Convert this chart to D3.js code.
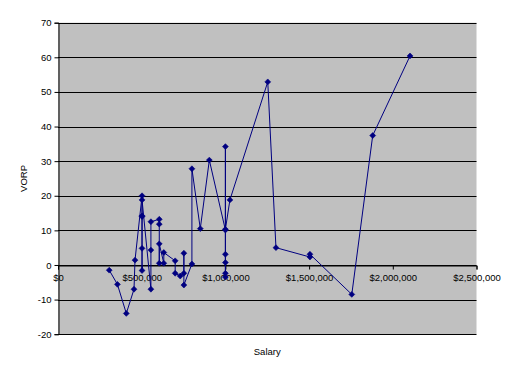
<!DOCTYPE html>
<html><head><meta charset="utf-8">
<script src="https://cdn.jsdelivr.net/npm/d3@7"></script>
<style>
html,body{margin:0;padding:0;background:#fff;}
svg{display:block;}
text{font-family:"Liberation Sans",Arial,sans-serif;}
</style></head>
<body>
<script>
const salary = [306000,355000,408000,454000,460000,
  502000,502000,502000,502000,502000,502000,
  555000,555000,555000,
  605000,605000,605000,605000,
  632000,632000,
  700000,700000,730000,
  752000,752000,752000,
  800000,800000,850000,904000,
  1000000,1000000,1000000,1000000,1000000,1000000,1000000,
  1027000,1253000,1302000,1505000,1505000,1755000,1880000,2103000];
const vorp = [-1.5,-5.6,-14.0,-7.0,1.4,
  20.0,14.2,14.0,4.8,-1.6,18.8,
  -7.0,4.3,12.5,
  13.2,11.8,0.5,6.1,
  0.5,3.6,
  1.2,-2.4,-3.2,
  -2.4,3.4,-5.8,
  0.3,27.8,10.5,30.3,
  10.1,34.2,3.1,0.7,-2.4,-3.5,10.3,
  18.8,52.9,5.0,2.3,3.1,-8.5,37.4,60.4];
const xTicks = [0,500000,1000000,1500000,2000000,2500000];
const yTicks = [-20,-10,0,10,20,30,40,50,60,70];
const xTitle = "Salary", yTitle = "VORP";

const W=515,H=377;
const svg=d3.select("body").append("svg").attr("width",W).attr("height",H);
const x=d3.scaleLinear().domain([0,2500000]).range([58,476.5]);
const y=d3.scaleLinear().domain([-20,70]).range([334.2,22.7]);

svg.append("rect").attr("x",x(0)).attr("y",y(70)).attr("width",x(2500000)-x(0)).attr("height",y(-20)-y(70)).attr("fill","#C0C0C0");

// gridlines
svg.append("g").selectAll("line").data(yTicks).join("line")
  .attr("x1",x(0)).attr("x2",x(2500000))
  .attr("y1",d=>Math.round(y(d))+0.5).attr("y2",d=>Math.round(y(d))+0.5)
  .attr("stroke","#000").attr("stroke-width",1);

// y axis
const yAxis=d3.axisLeft(y).tickValues(yTicks).tickSize(4).tickPadding(3).tickFormat(d=>String(d));
const gy=svg.append("g").attr("transform",`translate(${Math.round(x(0))+0.5},0)`).call(yAxis);
gy.select(".domain").attr("stroke","#000");
gy.selectAll("text").attr("font-size","9.5px").attr("fill","#000");

// x axis at zero
const xAxis=d3.axisBottom(x).tickValues(xTicks).tickSize(4).tickPadding(5)
  .tickFormat(d=>"$"+d3.format(",")(d));
const gx=svg.append("g").attr("transform",`translate(0,${Math.round(y(0))+0.5})`).call(xAxis);
gx.select(".domain").attr("stroke","#000");
gx.selectAll("text").attr("font-size","9.5px").attr("fill","#000");

const pts=salary.map((s,i)=>[s,vorp[i]]);
svg.append("path").datum(pts)
  .attr("d",d3.line().x(d=>x(d[0])).y(d=>y(d[1])))
  .attr("fill","none").attr("stroke","#000080").attr("stroke-width",1);
svg.append("g").selectAll("path").data(pts).join("path")
  .attr("transform",d=>`translate(${x(d[0])},${y(d[1])})`)
  .attr("d",d3.symbol(d3.symbolDiamond2,22))
  .attr("fill","#000080").attr("stroke","#000080").attr("stroke-width",0.6);

svg.append("text").attr("x",(x(0)+x(2500000))/2).attr("y",355).attr("text-anchor","middle")
  .attr("font-size","9.5px").text(xTitle);
svg.append("text").attr("transform",`translate(27,${(y(70)+y(-20))/2}) rotate(-90)`)
  .attr("text-anchor","middle").attr("font-size","9.5px").text(yTitle);
</script>
</body></html>
